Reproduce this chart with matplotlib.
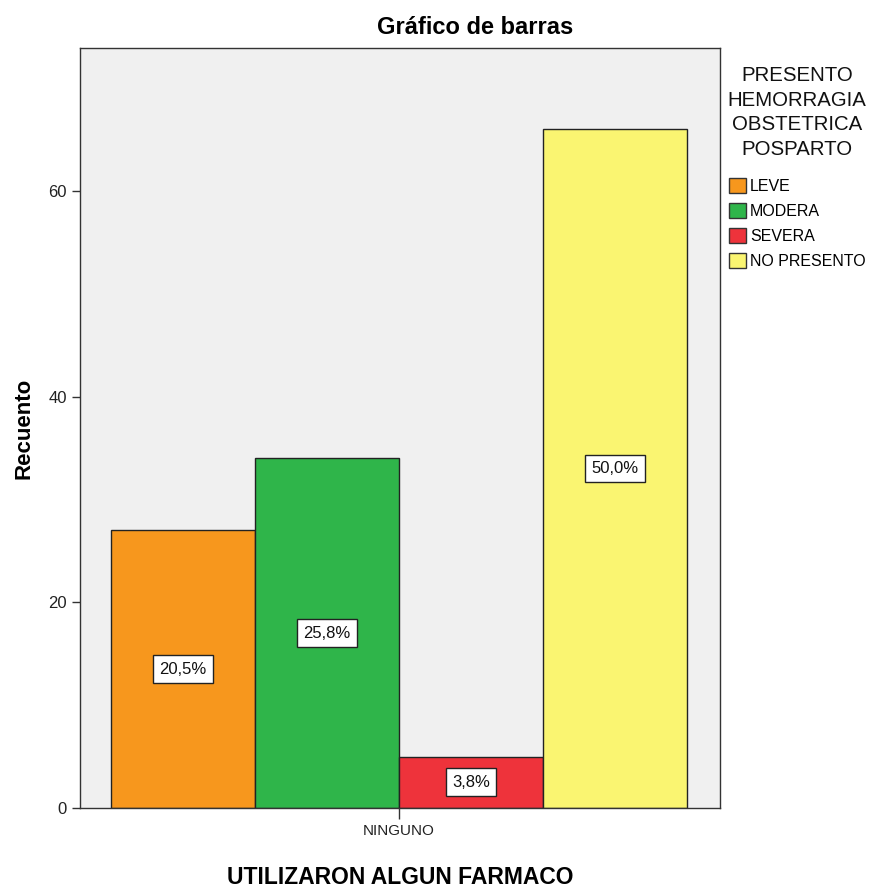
import matplotlib
matplotlib.use("Agg")
import matplotlib.pyplot as plt
from matplotlib.patches import Patch

plt.rcParams['font.family'] = ['Liberation Sans', 'DejaVu Sans']

categories = ["LEVE", "MODERA", "SEVERA", "NO PRESENTO"]
counts = [27, 34, 5, 66]
percent_labels = ["20,5%", "25,8%", "3,8%", "50,0%"]
colors = ["#F7971D", "#2FB54A", "#EE333B", "#FAF571"]
x_group = "NINGUNO"
legend_title = "PRESENTO\nHEMORRAGIA\nOBSTETRICA\nPOSPARTO"

W, H = 869, 890
fig = plt.figure(figsize=(W / 100, H / 100), dpi=100)
ax = fig.add_axes([80 / W, 82 / H, 640 / W, 760 / H])
ax.set_facecolor("#F0F0F0")

offsets = [-1.5, -0.5, 0.5, 1.5]
for off, c, col, lab in zip(offsets, counts, colors, percent_labels):
    ax.bar(off, c, width=1.0, color=col, edgecolor="#222222", linewidth=1.0, zorder=2)
    ax.text(off, c / 2, lab, ha="center", va="center", fontsize=12, color="#111111",
            bbox=dict(boxstyle="square,pad=0.38", fc="white", ec="#222222", lw=1.0), zorder=3)

ax.set_xlim(-2.215, 2.229)
ax.set_ylim(0, 73.9)
ax.set_yticks([0, 20, 40, 60])
ax.set_xticks([0])
ax.set_xticklabels([x_group])
ax.tick_params(axis="y", labelsize=12, length=6, width=1, color="#333333", labelcolor="#222222")
ax.tick_params(axis="x", labelsize=11, length=8, width=1, color="#333333", labelcolor="#222222")
for s in ax.spines.values():
    s.set_color("#333333")
    s.set_linewidth(1.0)

ax.set_ylabel("Recuento", fontsize=16, fontweight="bold", labelpad=10)
ax.set_xlabel("UTILIZARON ALGUN FARMACO", fontsize=16.5, fontweight="bold", labelpad=20)
fig.text(475 / W, 1 - 28 / H, "Gráfico de barras", ha="center", va="center",
         fontsize=17, fontweight="bold")

fig.text(797 / W, 1 - 66 / H, legend_title, ha="center", va="top", fontsize=14.7,
         linespacing=1.38, color="#111111")

handles = [Patch(facecolor=col, edgecolor="#333333", label=cat) for col, cat in zip(colors, categories)]
fig.legend(handles=handles, loc="upper left", bbox_to_anchor=(729 / W, 1 - 178 / H),
           frameon=False, fontsize=11.5, handlelength=1.06, handleheight=1.1,
           handletextpad=0.25, labelspacing=0.56, borderaxespad=0, borderpad=0)

fig.savefig("out.png", dpi=100)
